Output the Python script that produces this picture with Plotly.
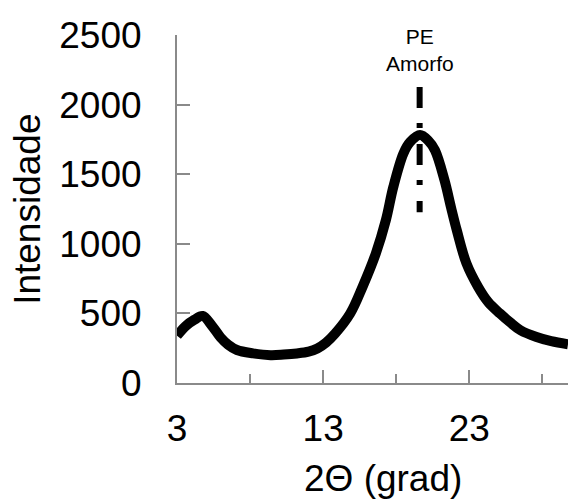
import plotly.graph_objects as go

# Diffraction pattern: 2-theta (degrees) vs. intensity
two_theta = [3.0, 3.6, 4.2, 4.75, 5.4, 5.97, 6.5, 7.1, 8.2, 9.4, 10.3, 11.2, 12.0,
             12.6, 13.2, 13.82, 14.85, 15.69, 16.6, 17.29, 17.8, 18.49, 18.94,
             19.63, 20.2, 20.65, 21.3, 21.75, 22.14, 22.8, 23.6, 24.3, 25.1,
             25.8, 26.5, 27.6, 28.6, 29.75]
intensity = [340, 410, 455, 482, 410, 329, 275, 237, 213, 200, 204, 212, 225,
             248, 290, 355, 499, 690, 930, 1170, 1409, 1649, 1730,
             1781, 1740, 1672, 1457, 1260, 1098, 860, 690, 580, 499,
             435, 379, 330, 300, 278]

x_ticks = [3, 13, 23]
x_minor = [8, 18, 28]
y_ticks = [0, 500, 1000, 1500, 2000, 2500]

peak_label = "PE<br>Amorfo"
peak_pos = 19.6
peak_line = [1227, 2126]

axis_grey = "#8a8a8a"
font = "Liberation Sans, Arial, sans-serif"

fig = go.Figure()
fig.add_trace(go.Scatter(
    x=two_theta, y=intensity, mode="lines",
    line=dict(color="black", width=10, shape="spline", smoothing=1.0),
    hoverinfo="skip", showlegend=False,
))

# Dash-dot marker for the amorphous PE halo
fig.add_shape(type="line", xref="x", yref="y",
              x0=peak_pos, x1=peak_pos, y0=peak_line[1], y1=peak_line[0],
              line=dict(color="black", width=6, dash="21px,15px,5px,16px"))

fig.add_annotation(x=peak_pos, y=2392, xref="x", yref="y", text=peak_label,
                   showarrow=False, yanchor="middle", xanchor="center",
                   font=dict(family=font, size=21, color="black"))

fig.add_annotation(x=0.528, y=-0.275, xref="paper", yref="paper",
                   text="2Θ (grad)", showarrow=False,
                   xanchor="center", yanchor="middle",
                   font=dict(family=font, size=37, color="black"))
fig.add_annotation(x=-0.384, y=0.5, xref="paper", yref="paper",
                   text="Intensidade", showarrow=False, textangle=-90,
                   xanchor="center", yanchor="middle",
                   font=dict(family=font, size=37, color="black"))

fig.update_layout(
    width=568, height=502,
    margin=dict(l=177, r=0, t=35, b=119),
    paper_bgcolor="white", plot_bgcolor="white",
    font=dict(family=font, size=37, color="black"),
    xaxis=dict(range=[3, 29.75], tickvals=x_ticks, ticktext=[str(v) for v in x_ticks],
               ticks="inside", ticklen=13, tickwidth=2, tickcolor=axis_grey,
               showline=True, linecolor=axis_grey, linewidth=2,
               showgrid=False, zeroline=False, ticklabelstandoff=12,
               minor=dict(tickvals=x_minor, ticks="inside", ticklen=9,
                          tickwidth=2, tickcolor=axis_grey, showgrid=False)),
    yaxis=dict(range=[0, 2500], tickvals=y_ticks,
               ticks="inside", ticklen=13, tickwidth=2, tickcolor=axis_grey,
               showline=True, linecolor=axis_grey, linewidth=2,
               showgrid=False, zeroline=False, ticklabelstandoff=26),
)

fig.write_html("out.html")
